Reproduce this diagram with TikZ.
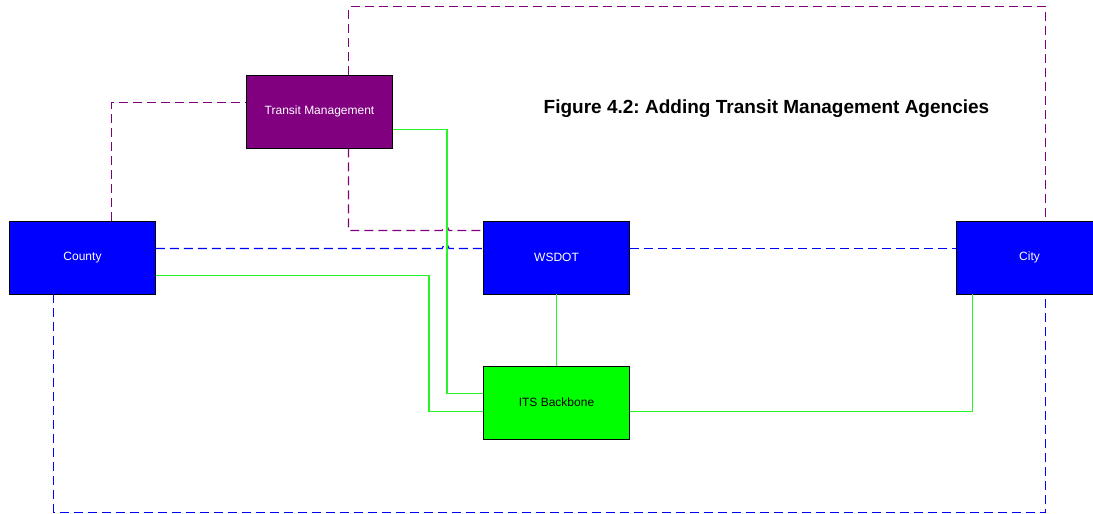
\documentclass[tikz,border=0pt]{standalone}
\usepackage{fontspec}
\setmainfont{Liberation Sans}
\usepackage{tikz}
\usetikzlibrary{calc}
\definecolor{tmpurple}{RGB}{128,0,128}
\definecolor{agblue}{RGB}{0,0,255}
\definecolor{itsgreen}{RGB}{0,255,0}
\definecolor{linkgreen}{RGB}{40,245,40}
\frenchspacing
\begin{document}
\begin{tikzpicture}[x=1pt,y=-1pt,
    box/.style={draw=black,line width=0.8pt,minimum width=146pt,minimum height=73pt,
      inner sep=0pt,font=\fontsize{12}{14}\selectfont},
    agency/.style={box,fill=agblue,text=white},
    plink/.style={color=tmpurple,line width=1.2pt,dash pattern=on 9pt off 5pt},
    blink/.style={color=agblue,line width=1.2pt,dash pattern=on 9pt off 5pt},
    glink/.style={color=linkgreen,line width=1.2pt}]
    \useasboundingbox(-0.5,-0.5)rectangle(1092.5,513.5);
    % boxes
    \node[box,fill=tmpurple,text=white](transit)at(319,111){Transit Management};
    \node[agency](county)at(82,257){County};
    \node[agency](wsdot)at(556,257){WSDOT};
    \node[agency](city)at(1029,257){City};
    \node[box,fill=itsgreen](its)at(556,402){ITS Backbone};
    \node[font=\bfseries\fontsize{19}{22}\selectfont](title)at(766,108){Figure 4.2: Adding Transit Management Agencies};
    % transit management links
    \draw[plink]([xshift=29pt]county.north)|-([yshift=9pt]transit.west);
    \draw[plink]([xshift=29pt]transit.north)--++(0,-68)-|([xshift=16pt]city.north);
    \draw[plink]([xshift=29pt]transit.south)|-($(wsdot.west)+(-41,-27)$)--++(2,-4)--++(3,0)--++(2,4)--([yshift=27pt]wsdot.west);
    % agency links
    \draw[blink]([yshift=9pt]county.east)--($(wsdot.west)+(-41,-9)$)--++(2,-4)--++(3,0)--++(2,4)--([yshift=9pt]wsdot.west);
    \draw[blink]([yshift=9pt]wsdot.east)--([yshift=9pt]city.west);
    \draw[blink]([xshift=-29pt]county.south)--++(0,218)-|([xshift=16pt]city.south);
    % backbone links
    \draw[glink]([yshift=-18pt]transit.east)--++(54,0)|-([yshift=9pt]its.west);
    \draw[glink]([yshift=-18pt]county.east)--++(273,0)|-([yshift=-9pt]its.west);
    \draw[glink](wsdot.south)--(its.north);
    \draw[glink]([yshift=-9pt]its.east)-|([xshift=-57pt]city.south);
\end{tikzpicture}
\end{document}
